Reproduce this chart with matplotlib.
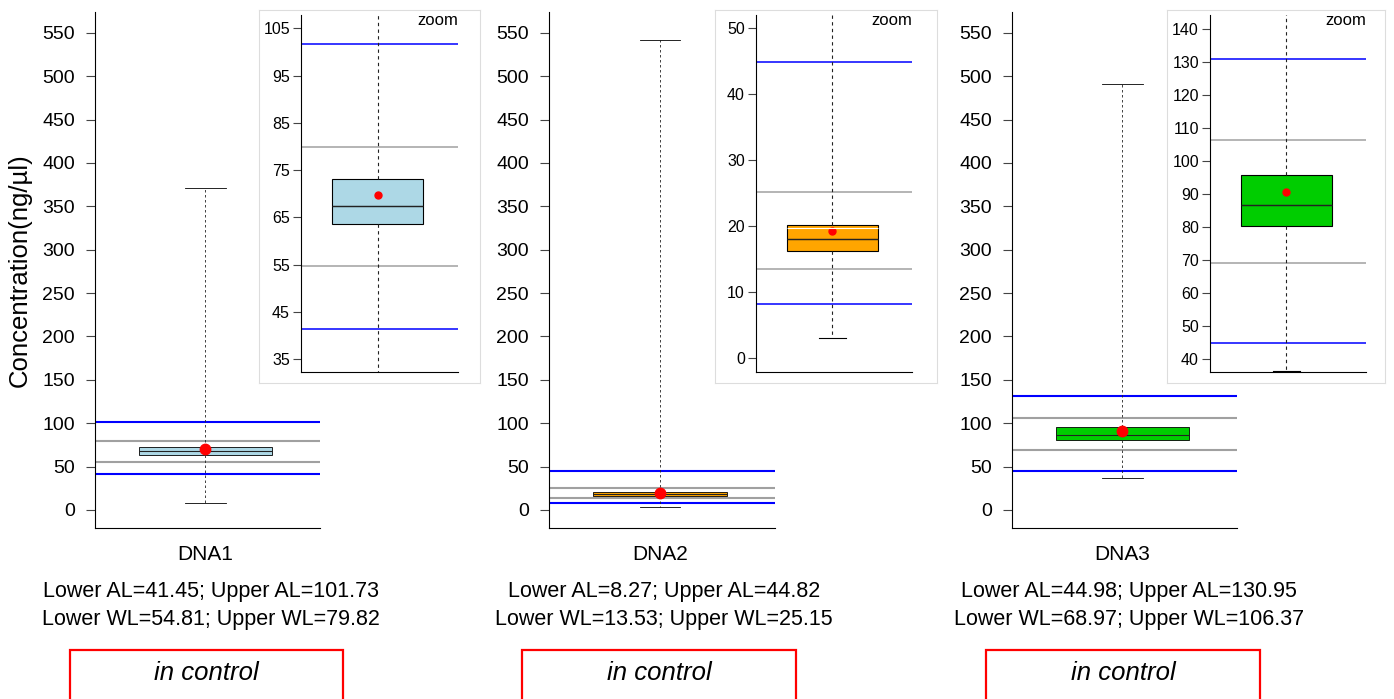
import numpy as np
import matplotlib
matplotlib.use("Agg")
import matplotlib.pyplot as plt
from matplotlib.patches import Rectangle

plt.rcParams['font.family'] = ['Liberation Sans', 'DejaVu Sans']

samples = ["DNA1", "DNA2", "DNA3"]
whis_lo = [7.5, 3.0, 36.5]
q1 = [63.5, 16.2, 80.2]
med = [67.4, 18.0, 86.7]
q3 = [73.1, 20.2, 95.7]
whis_hi = [371, 542, 491]
means = [69.8, 19.3, 90.5]
lower_al = [41.45, 8.27, 44.98]
upper_al = [101.73, 44.82, 130.95]
lower_wl = [54.81, 13.53, 68.97]
upper_wl = [79.82, 25.15, 106.37]
box_colors = ["#ADD8E6", "#FFA500", "#00CD00"]
status = ["in control", "in control", "in control"]
main_ticks = list(range(0, 551, 50))
zoom_ticks = [list(range(35, 106, 10)), list(range(0, 51, 10)), list(range(40, 141, 10))]
zoom_ylims = [(32.3, 107.8), (-2.1, 52.0), (36.1, 144.2)]
# white line seen inside the DNA2 zoom box
dna2_inner = 19.7

W, H = 1394, 699
fig = plt.figure(figsize=(W / 100, H / 100), dpi=100)


def fx(px):
    return px / W


def fy(py):
    return 1 - py / H


main_x = [(95, 320), (549, 775), (1012, 1237)]
zoom_x = [(301, 458), (756, 912), (1210, 1366)]
bg_x = [(259, 480), (715, 937), (1167, 1385)]
text_cx = [211, 664, 1129]
red_x = [(70, 343), (522, 796), (986, 1260)]


def draw_box(ax, i, width, capw, msize, lw):
    stats = [dict(whislo=whis_lo[i], q1=q1[i], med=med[i], q3=q3[i],
                  whishi=whis_hi[i], mean=means[i], fliers=[])]
    ax.bxp(stats, positions=[1], widths=width, capwidths=capw, patch_artist=True,
           showmeans=True, showfliers=False,
           boxprops=dict(facecolor=box_colors[i], edgecolor="black", linewidth=lw),
           medianprops=dict(color="#222222", linewidth=lw * 1.3),
           whiskerprops=dict(color="#222222", linewidth=lw, linestyle=(0, (3, 3))),
           capprops=dict(color="black", linewidth=lw),
           meanprops=dict(marker="o", markerfacecolor="red", markeredgecolor="red",
                          markersize=msize),
           manage_ticks=False)


for i in range(3):
    x0, x1 = main_x[i]
    ax = fig.add_axes([fx(x0), fy(528), fx(x1 - x0), (528 - 12) / H])
    ax.set_ylim(-20.8, 574)
    ax.set_xlim(0.509, 1.509)
    for y, c in ((upper_al[i], "#0000FF"), (lower_al[i], "#0000FF"),
                 (upper_wl[i], "#A0A0A0"), (lower_wl[i], "#A0A0A0")):
        ax.axhline(y, color=c, linewidth=1.5, zorder=1)
    draw_box(ax, i, 0.59, 0.178, 7.5, 0.6)
    ax.spines["top"].set_visible(False)
    ax.spines["right"].set_visible(False)
    ax.set_yticks(main_ticks)
    ax.set_xticks([1])
    ax.set_xticklabels([samples[i]])
    ax.tick_params(axis="y", length=6.5, pad=8, labelsize=14, color="#444444")
    ax.tick_params(axis="x", length=0, pad=12, labelsize=15)
    if i == 0:
        ax.set_ylabel("Concentration(ng/µl)", fontsize=18.5)
        ax.yaxis.set_label_coords((32 - 95) / 225, 0.5)

    # zoom inset with its light frame
    b0, b1 = bg_x[i]
    bg = fig.add_axes([fx(b0), fy(383), fx(b1 - b0), (383 - 10) / H])
    bg.set_xticks([])
    bg.set_yticks([])
    for s in bg.spines.values():
        s.set_color("#DDDDDD")
    z0, z1 = zoom_x[i]
    az = fig.add_axes([fx(z0), fy(372), fx(z1 - z0), (372 - 15) / H])
    az.set_ylim(*zoom_ylims[i])
    az.set_xlim(0.51, 1.51)
    for y, c in ((upper_al[i], "#0000FF"), (lower_al[i], "#0000FF"),
                 (upper_wl[i], "#A0A0A0"), (lower_wl[i], "#A0A0A0")):
        az.axhline(y, color=c, linewidth=1.1, zorder=1)
    draw_box(az, i, 0.58, 0.17, 5, 0.8)
    if i == 1:
        az.hlines(dna2_inner, 0.71, 1.29, color="white", linewidth=0.8, zorder=3)
    az.spines["top"].set_visible(False)
    az.spines["right"].set_visible(False)
    az.set_yticks(zoom_ticks[i])
    az.set_xticks([])
    az.tick_params(axis="y", length=6, pad=2, labelsize=11.5, color="#444444")
    az.text(1.0, 0.985, "zoom", transform=az.transAxes, ha="right", va="center",
            fontsize=12)

    fig.text(fx(text_cx[i]), fy(591), "Lower AL=%.2f; Upper AL=%.2f" % (lower_al[i], upper_al[i]),
             ha="center", va="center", fontsize=15.5)
    fig.text(fx(text_cx[i]), fy(620), "Lower WL=%.2f; Upper WL=%.2f" % (lower_wl[i], upper_wl[i]),
             ha="center", va="center", fontsize=15.5)

    r0, r1 = red_x[i]
    fig.patches.append(Rectangle((fx(r0), -0.05), fx(r1 - r0), fy(650) + 0.05,
                                 transform=fig.transFigure, fill=False,
                                 edgecolor="red", linewidth=1.6, clip_on=False))
    fig.text(fx((r0 + r1) / 2), fy(673), status[i], ha="center", va="center",
             fontsize=18.5, style="italic")

fig.savefig("out.png", dpi=100)
